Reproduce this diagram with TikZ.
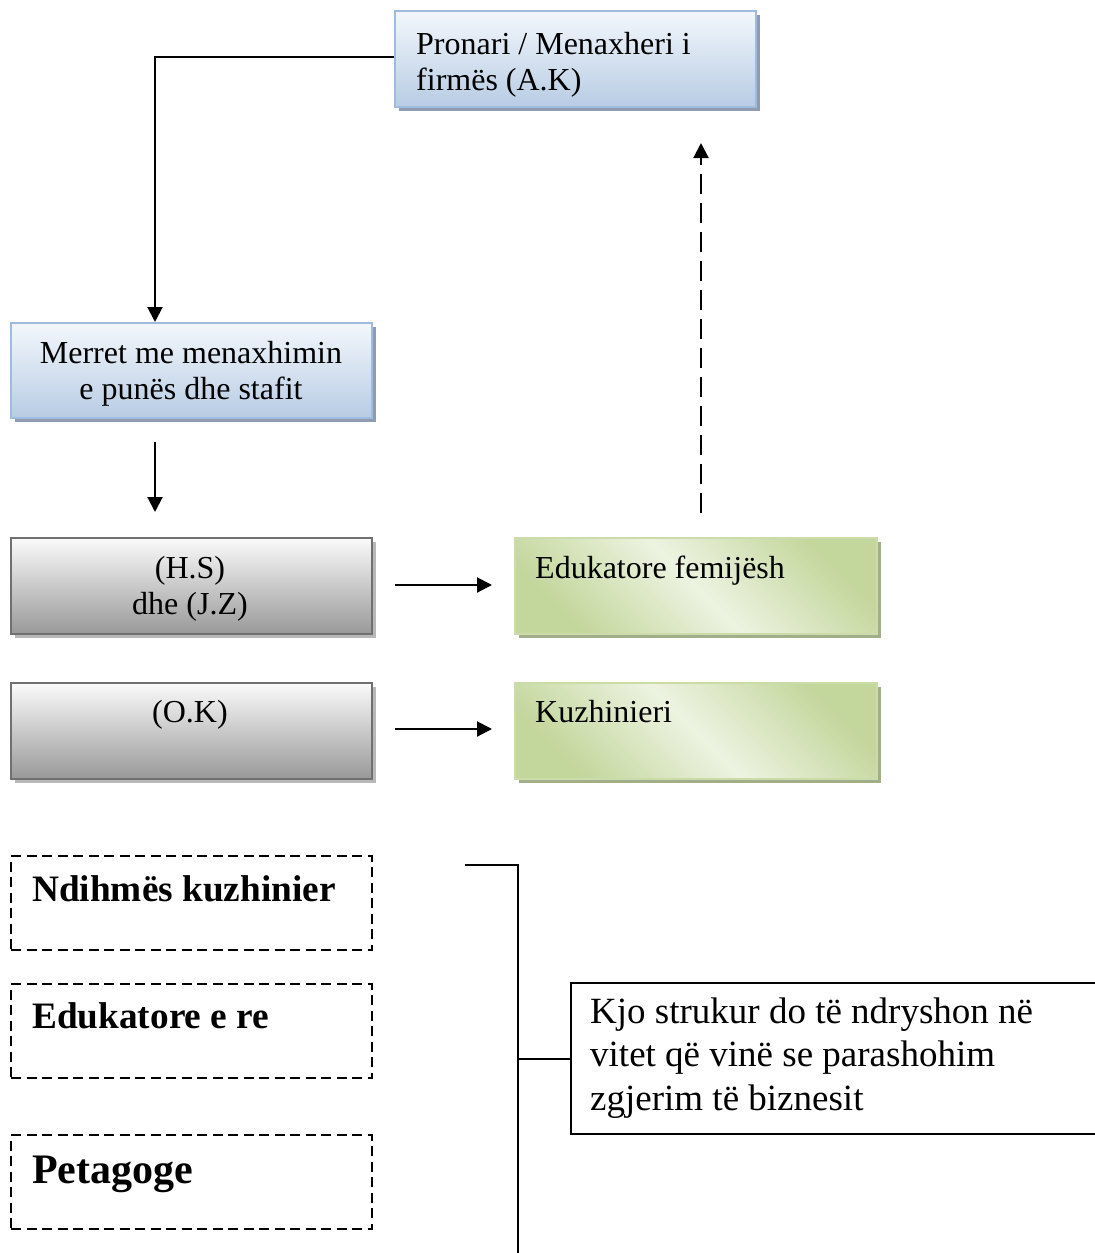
\documentclass[tikz,border=0pt]{standalone}
\usepackage{fontspec}
\setmainfont{Liberation Serif}
\usetikzlibrary{arrows.meta,shadows}
\definecolor{bluetop}{HTML}{F3F7FC}
\definecolor{bluebot}{HTML}{B8CCE4}
\definecolor{blueborder}{HTML}{9FBBDD}
\definecolor{blueshadow}{HTML}{8E9BB0}
\definecolor{graytop}{HTML}{FAFAFA}
\definecolor{graybot}{HTML}{999999}
\definecolor{grayborder}{HTML}{707070}
\definecolor{grayshadow}{HTML}{B8B8B8}
\definecolor{greendark}{HTML}{C3D69B}
\definecolor{greenlight}{HTML}{EDF3E1}
\definecolor{greenborder}{HTML}{CBDCAA}
\definecolor{greenshadow}{HTML}{A2AE8A}
\begin{document}
\begin{tikzpicture}[x=1pt,y=-1pt,
  basebox/.style={rectangle, anchor=north west, inner sep=0pt,
    minimum width=361pt, minimum height=96pt},
  bluebox/.style={basebox, draw=blueborder, line width=1.8pt,
    top color=bluetop, bottom color=bluebot,
    general shadow={fill=blueshadow, shadow xshift=4pt, shadow yshift=-4pt}},
  graybox/.style={basebox, draw=grayborder, line width=1.8pt,
    top color=graytop, bottom color=graybot,
    general shadow={fill=grayshadow, shadow xshift=4pt, shadow yshift=-4pt}},
  greenbox/.style={basebox, minimum width=362pt, draw=greenborder, line width=1.5pt,
    top color=greendark, bottom color=greendark, middle color=greenlight,
    shading angle=-45,
    general shadow={fill=greenshadow, shadow xshift=4pt, shadow yshift=-4pt}},
  dashbox/.style={basebox, minimum height=94pt, draw=black, line width=2pt,
    dash pattern=on 10pt off 5.5pt},
  plainbox/.style={rectangle, anchor=north west, inner sep=0pt, draw=black,
    line width=2.2pt, minimum width=540pt, minimum height=151pt},
  txt/.style={inner sep=0pt, anchor=base west, font=\fontsize{32}{36.5}\selectfont},
  ctxt/.style={inner sep=0pt, anchor=base, font=\fontsize{32}{36.5}\selectfont},
  btxt/.style={inner sep=0pt, anchor=base west, font=\fontsize{37.3}{42}\selectfont\bfseries},
  conn/.style={draw=black, line width=2.1pt},
  arr/.style={conn, -{Triangle[length=15pt,width=15pt]}},
  darr/.style={arr, dash pattern=on 20pt off 9pt}
]
\clip (0,0) rectangle (1095,1253);
\useasboundingbox (0,0) rectangle (1095,1253);

% boxes
\node[bluebox] (owner) at (394,10) {};
\node[bluebox, minimum height=95pt] (mgmt) at (10,322) {};
\node[graybox] (hs) at (10,537) {};
\node[graybox] (ok) at (10,682) {};
\node[greenbox] (edu) at (514,537) {};
\node[greenbox] (kuz) at (514,682) {};
\node[dashbox] (d1) at (10,855) {};
\node[dashbox] (d2) at (10,983) {};
\node[dashbox] (d3) at (10,1134) {};
\node[plainbox] (note) at (570,982) {};

% texts
\node[txt] (ownertxt) at (416,54) {\parbox[t]{330pt}{\raggedright Pronari / Menaxheri i\\firmës (A.K)}};
\node[ctxt] (mgmttxt) at (191,363) {\parbox[t]{350pt}{\centering Merret me menaxhimin\\e punës dhe stafit}};
\node[ctxt] (hstxt) at (190,578) {\parbox[t]{350pt}{\centering (H.S)\\dhe (J.Z)}};
\node[ctxt] (oktxt) at (190,722) {(O.K)};
\node[txt] (edutxt) at (535,578) {Edukatore femijësh};
\node[txt] (kuztxt) at (535,722) {Kuzhinieri};
\node[btxt] (d1txt) at (32,901) {Ndihmës kuzhinier};
\node[btxt] (d2txt) at (32,1028) {Edukatore e re};
\node[btxt, font=\fontsize{42}{47}\selectfont\bfseries] (d3txt) at (32,1183) {Petagoge};
\node[inner sep=0pt, anchor=base west, font=\fontsize{37}{43.5}\selectfont] (notetxt) at (590,1023)
  {\parbox[t]{500pt}{\raggedright Kjo strukur do të ndryshon në\\vitet që vinë se parashohim\\zgjerim të biznesit}};

% connectors
\coordinate (c1) at (155,57);
\draw[arr] (owner.west |- c1) -- (c1) -- (c1 |- mgmt.north);
\coordinate (a2s) at (155,442);
\coordinate (a2e) at (155,512);
\draw[arr] (a2s) -- (a2e);
\coordinate (a3s) at (395,585);
\coordinate (a3e) at (492,585);
\draw[arr] (a3s) -- (a3e);
\coordinate (a4s) at (395,729);
\coordinate (a4e) at (492,729);
\draw[arr] (a4s) -- (a4e);
\coordinate (a5s) at (701,513);
\coordinate (a5e) at (701,143);
\draw[darr] (a5s) -- (a5e);
\coordinate (b1) at (465,865);
\coordinate (b2) at (518,865);
\coordinate (b3) at (518,1265);
\draw[conn] (b1) -- (b2) -- (b3);
\coordinate (b4) at (518,1059);
\draw[conn] (b4) -- (b4 -| note.west);
\end{tikzpicture}
\end{document}
